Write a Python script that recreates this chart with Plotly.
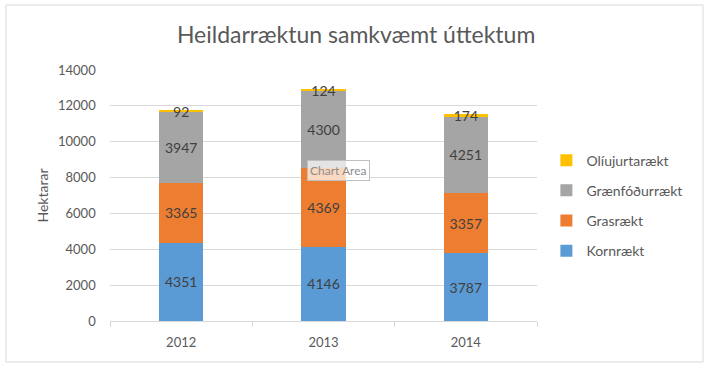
import plotly.graph_objects as go

years = ["2012", "2013", "2014"]
kornraekt = [4351, 4146, 3787]
grasraekt = [3365, 4369, 3357]
graenfodurraekt = [3947, 4300, 4251]
oliujurtaraekt = [92, 124, 174]

series = [
    ("Kornrækt", kornraekt, "#5B9BD5", 4),
    ("Grasrækt", grasraekt, "#ED7D31", 3),
    ("Grænfóðurrækt", graenfodurraekt, "#A5A5A5", 2),
    ("Olíujurtarækt", oliujurtaraekt, "#FFC000", 1),
]

FONT = "Lato, 'Open Sans', sans-serif"

fig = go.Figure()
for name, vals, col, rank in series:
    fig.add_trace(go.Bar(
        x=years, y=vals, name=name, marker_color=col, marker_line_width=0,
        text=[str(v) for v in vals], textposition="inside", insidetextanchor="middle",
        textangle=0,
        textfont=dict(size=14, color="#404040", family=FONT),
        legendgroup=name, legendrank=rank, cliponaxis=False,
    ))

fig.update_layout(
    width=708, height=371,
    barmode="stack", bargap=0.69,
    paper_bgcolor="white", plot_bgcolor="white",
    margin=dict(l=110, r=171, t=70, b=50),
    font=dict(family=FONT, color="#595959"),
    uniformtext=dict(minsize=14, mode="show"),
    title=dict(text="Heildarræktun samkvæmt úttektum", x=0.503, xanchor="center",
               y=0.905, yanchor="middle", font=dict(size=23, color="#595959", family=FONT)),
    legend=dict(x=1.022, xanchor="left", y=0.46, yanchor="middle",
                traceorder="grouped", tracegroupgap=9,
                font=dict(size=14, color="#595959", family=FONT),
                itemwidth=30, bgcolor="rgba(0,0,0,0)"),
    xaxis=dict(showline=True, linecolor="#D9D9D9", ticks="outside", tickson="boundaries",
               ticklen=5, tickcolor="#D9D9D9", tickfont=dict(size=13, color="#595959"),
               ticklabelstandoff=9, showgrid=False),
    yaxis=dict(range=[0, 14000], dtick=2000, tickformat="d", showgrid=True, gridcolor="#D9D9D9",
               zeroline=False, tickfont=dict(size=13, color="#595959"), ticksuffix="    ",
               title=dict(text="Hektarar", font=dict(size=14, color="#595959"), standoff=6)),
    shapes=[dict(type="rect", xref="paper", yref="paper",
                 x0=-0.2436, x1=1.3888, y0=-0.1633, y1=1.259,
                 line=dict(color="#D9D9D9", width=1), fillcolor="rgba(0,0,0,0)", layer="below")],
    annotations=[dict(text="Chart Area", xref="paper", yref="paper", x=0.534, y=0.598,
                      xanchor="center", yanchor="middle", showarrow=False,
                      font=dict(size=12, color="#8C8C8C", family=FONT),
                      bgcolor="rgba(255,255,255,0.7)", bordercolor="#BFBFBF", borderwidth=1,
                      borderpad=2)],
)

fig.write_html("out.html", config={"displayModeBar": False},
               post_script="document.body.style.margin='0';")
